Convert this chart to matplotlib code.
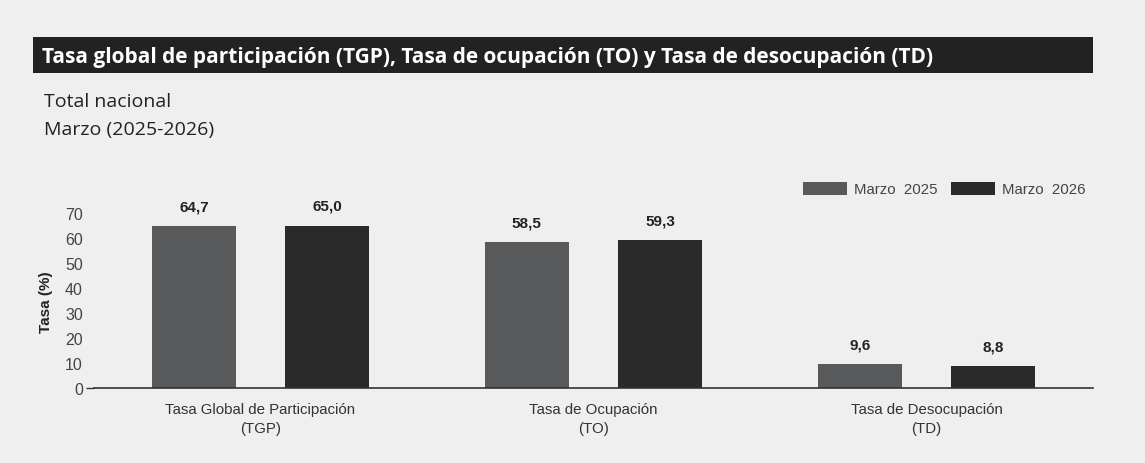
import matplotlib
matplotlib.use("Agg")
import matplotlib.pyplot as plt
from matplotlib.patches import Rectangle
import numpy as np

categories = ["Tasa Global de Participación\n(TGP)", "Tasa de Ocupación\n(TO)", "Tasa de Desocupación\n(TD)"]
series_names = ["Marzo  2025", "Marzo  2026"]
marzo_2025 = [64.7, 58.5, 9.6]
marzo_2026 = [65.0, 59.3, 8.8]
yticks = [0, 10, 20, 30, 40, 50, 60, 70]

title = "Tasa global de participación (TGP), Tasa de ocupación (TO) y Tasa de desocupación (TD)"
subtitle1 = "Total nacional"
subtitle2 = "Marzo (2025-2026)"

W, H = 1145, 464
bg = "#efefef"
c25 = "#58595a"
c26 = "#2a2a2a"
txt = "#333333"

fig = plt.figure(figsize=(W / 100, H / 100), dpi=100, facecolor=bg)

def fx(px):
    return px / W

def fy(py):
    return 1 - py / H

# Title bar
fig.patches.append(Rectangle((fx(33), fy(74)), fx(1093 - 33), (74 - 38) / H,
                             transform=fig.transFigure, facecolor="#222222", edgecolor="none"))
fig.text(fx(42), fy(57), title, color="white", fontsize=15, fontweight="bold",
         family="Open Sans", va="center", ha="left")
fig.text(fx(44), fy(102), subtitle1, color="#222222", fontsize=14, family="Open Sans", va="center")
fig.text(fx(44), fy(130), subtitle2, color="#222222", fontsize=14, family="Open Sans", va="center")

# Axes
ax_left, ax_right = 94, 1093
ax_bottom = 389
ymax = 75
px_per_unit = 2.5
ax_top = ax_bottom - ymax * px_per_unit
ax = fig.add_axes([fx(ax_left), fy(ax_bottom), fx(ax_right - ax_left), (ax_bottom - ax_top) / H])
ax.set_facecolor("none")

x = np.arange(len(categories))
width = 0.252
off = 0.2
b1 = ax.bar(x - off, marzo_2025, width, color=c25, label=series_names[0])
b2 = ax.bar(x + off, marzo_2026, width, color=c26, label=series_names[1])

for bars, vals in ((b1, marzo_2025), (b2, marzo_2026)):
    for b, v in zip(bars, vals):
        ax.annotate(f"{v:.1f}".replace(".", ","), (b.get_x() + b.get_width() / 2, v),
                    xytext=(0, 9), textcoords="offset points", ha="center", va="bottom",
                    fontsize=11, fontweight="bold", family="Liberation Sans", color="#222222")

ax.set_xlim(-0.5, 2.5)
ax.set_ylim(0, ymax)
ax.set_yticks(yticks)
ax.set_xticks(x)
ax.set_xticklabels(categories, fontsize=10.8, family="Liberation Sans", color=txt, linespacing=1.5)
for lab in ax.get_yticklabels():
    lab.set_family("Liberation Sans")
ax.tick_params(axis="y", labelsize=11.5, labelcolor="#444444", length=6, width=1, color="#333333", pad=2)
ax.tick_params(axis="x", length=0, pad=10)
for t, v in zip(ax.yaxis.get_major_ticks(), yticks):
    if v != 0:
        t.tick1line.set_visible(False)

for s in ("top", "right", "left"):
    ax.spines[s].set_visible(False)
ax.spines["bottom"].set_color("#333333")
ax.spines["bottom"].set_linewidth(1.2)

ax.set_ylabel("Tasa (%)", fontsize=11, fontweight="bold", family="Liberation Sans", color="#222222")
ax.yaxis.set_label_coords((53 - ax_left) / (ax_right - ax_left), (ax_bottom - 302) / (ax_bottom - ax_top))

leg = fig.legend(handles=[b1, b2], labels=series_names, loc="center right",
                 bbox_to_anchor=(fx(1085), fy(190)), ncol=2, frameon=False,
                 prop={"family": "Liberation Sans", "size": 10.8},
                 handlelength=2.95, handleheight=1.0, handletextpad=0.45, columnspacing=0.9,
                 borderaxespad=0, borderpad=0)
for t in leg.get_texts():
    t.set_color("#444444")

fig.savefig("out.png", dpi=100, facecolor=bg)
